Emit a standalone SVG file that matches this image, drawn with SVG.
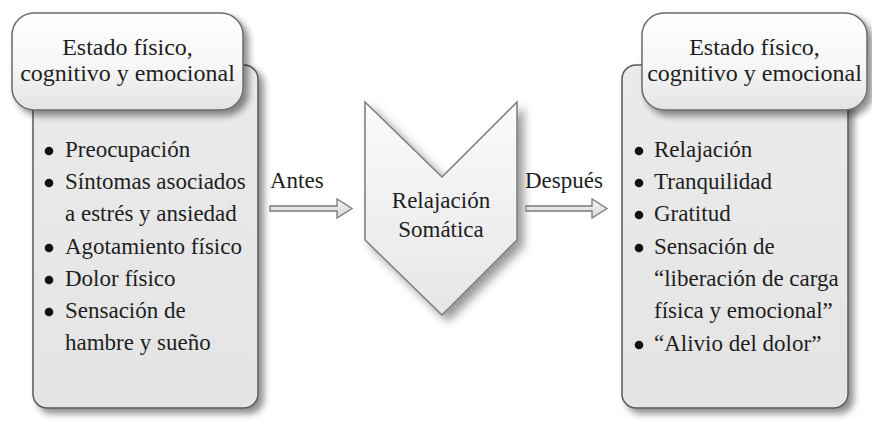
<svg xmlns="http://www.w3.org/2000/svg" width="872" height="421" viewBox="0 0 872 421">
  <defs>
    <linearGradient id="hdrGrad" x1="0" y1="0" x2="0" y2="1">
      <stop offset="0" stop-color="#ffffff"/>
      <stop offset="0.55" stop-color="#f7f7f7"/>
      <stop offset="1" stop-color="#e2e2e2"/>
    </linearGradient>
    <linearGradient id="bodyGrad" x1="0" y1="0" x2="0" y2="1">
      <stop offset="0" stop-color="#ebebeb"/>
      <stop offset="1" stop-color="#e4e4e4"/>
    </linearGradient>
    <linearGradient id="chevGrad" x1="0" y1="0" x2="0" y2="1">
      <stop offset="0" stop-color="#fbfbfb"/>
      <stop offset="1" stop-color="#e6e6e6"/>
    </linearGradient>
    <linearGradient id="arrGrad" x1="0" y1="0" x2="0" y2="1">
      <stop offset="0" stop-color="#f2f2f2"/>
      <stop offset="1" stop-color="#d8d8d8"/>
    </linearGradient>
    <filter id="shadow" x="-20%" y="-20%" width="150%" height="150%">
      <feDropShadow dx="5" dy="5" stdDeviation="3.5" flood-color="#000" flood-opacity="0.45"/>
    </filter>
    <filter id="shadowC" x="-20%" y="-20%" width="150%" height="150%">
      <feDropShadow dx="6" dy="6" stdDeviation="5" flood-color="#000" flood-opacity="0.4"/>
    </filter>
  </defs>
  <style>
    .hdr { font-family: "Liberation Serif", "Times New Roman", serif; font-size: 24px; text-anchor: middle; fill: #1e1e1e; }
    .item { font-family: "Liberation Serif", "Times New Roman", serif; font-size: 23px; fill: #1e1e1e; }
    .lbl { font-family: "Liberation Serif", "Times New Roman", serif; font-size: 23px; fill: #1e1e1e; }
    .mid { font-family: "Liberation Serif", "Times New Roman", serif; font-size: 23px; text-anchor: middle; fill: #1e1e1e; }
    .body { fill: url(#bodyGrad); stroke: #5a5a5a; stroke-width: 1.5; filter: url(#shadow); }
    .head { fill: url(#hdrGrad); stroke: #6a6a6a; stroke-width: 1.5; filter: url(#shadow); }
    .bullet { fill: #111; }
    .arrow { fill: url(#arrGrad); stroke: #7a7a7a; stroke-width: 1.3; }
    .chev { fill: url(#chevGrad); stroke: #7a7a7a; stroke-width: 1.5; filter: url(#shadowC); }
  </style>
  <rect width="872" height="421" fill="#ffffff"/>

  <g id="before-state">
    <rect class="body" x="33" y="65" width="225" height="343" rx="14"/>
    <rect class="head" x="12" y="13" width="231" height="97" rx="22"/>
    <text class="hdr" x="127.5" y="55">Estado físico,</text>
    <text class="hdr" x="127.5" y="81">cognitivo y emocional</text>
    <circle class="bullet" cx="49" cy="151" r="4.3"/>
    <text class="item" x="65" y="157">Preocupación</text>
    <circle class="bullet" cx="49" cy="183" r="4.3"/>
    <text class="item" x="65" y="189">Síntomas asociados</text>
    <text class="item" x="65" y="221">a estrés y ansiedad</text>
    <circle class="bullet" cx="49" cy="248" r="4.3"/>
    <text class="item" x="65" y="254">Agotamiento físico</text>
    <circle class="bullet" cx="49" cy="280" r="4.3"/>
    <text class="item" x="65" y="286">Dolor físico</text>
    <circle class="bullet" cx="49" cy="312" r="4.3"/>
    <text class="item" x="65" y="318">Sensación de</text>
    <text class="item" x="65" y="350">hambre y sueño</text>
  </g>

  <g id="relajacion-somatica">
    <polygon class="chev" points="365,102 442,177 517,102 517,240 442,315 365,240"/>
    <text class="mid" x="441" y="208">Relajación</text>
    <text class="mid" x="441" y="237">Somática</text>
  </g>

  <g id="after-state">
    <rect class="body" x="622" y="65" width="226" height="343" rx="14"/>
    <rect class="head" x="642" y="13" width="225" height="97" rx="22"/>
    <text class="hdr" x="754.5" y="55">Estado físico,</text>
    <text class="hdr" x="754.5" y="81">cognitivo y emocional</text>
    <circle class="bullet" cx="639" cy="151" r="4.3"/>
    <text class="item" x="654" y="157">Relajación</text>
    <circle class="bullet" cx="639" cy="183" r="4.3"/>
    <text class="item" x="654" y="189">Tranquilidad</text>
    <circle class="bullet" cx="639" cy="215" r="4.3"/>
    <text class="item" x="654" y="221">Gratitud</text>
    <circle class="bullet" cx="639" cy="248" r="4.3"/>
    <text class="item" x="654" y="254">Sensación de</text>
    <text class="item" x="654" y="286">“liberación de carga</text>
    <text class="item" x="654" y="318">física y emocional”</text>
    <circle class="bullet" cx="639" cy="345" r="4.3"/>
    <text class="item" x="654" y="351">“Alivio del dolor”</text>
  </g>

  <g id="connectors">
    <polygon class="arrow" points="270,206 337,206 337,199 352,208.5 337,218 337,211 270,211"/>
    <text class="lbl" x="270" y="188">Antes</text>
    <polygon class="arrow" points="526,206 592,206 592,199 607,208.5 592,218 592,211 526,211"/>
    <text class="lbl" x="525" y="188">Después</text>
  </g>
</svg>
